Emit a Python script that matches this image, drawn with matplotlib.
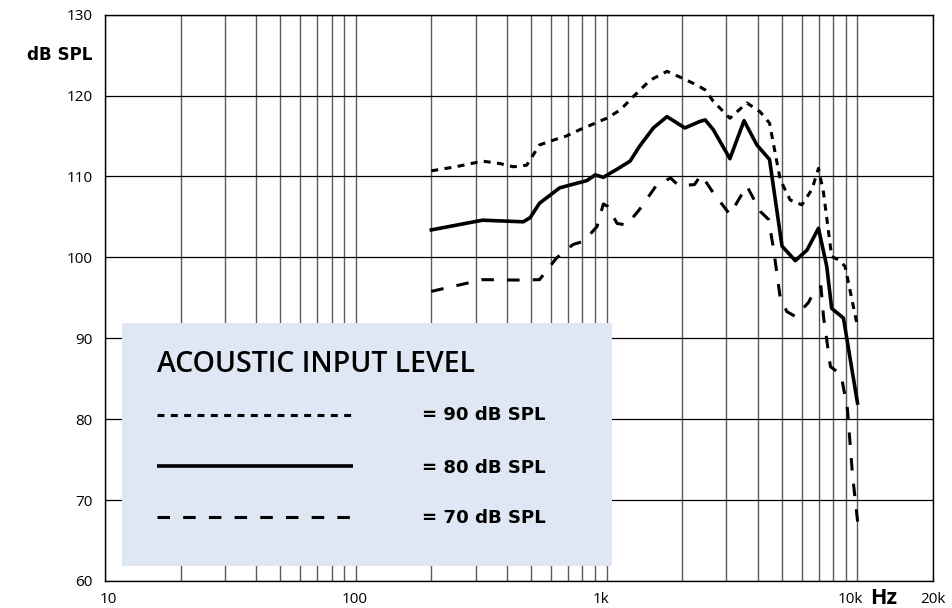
import matplotlib
matplotlib.use("Agg")
import matplotlib.pyplot as plt
from matplotlib.patches import Rectangle
from matplotlib.ticker import FixedLocator, NullFormatter
import matplotlib.transforms as mtransforms

plt.rcParams['font.family'] = ['Open Sans', 'DejaVu Sans']
plt.rcParams['lines.scale_dashes'] = False

# ---- data ----
f90 = [200, 250, 320, 375, 425, 480, 540, 613, 690, 783, 886, 1000, 1130, 1280, 1489,
       1740, 2023, 2290, 2470, 2660, 3100, 3620, 4090, 4460, 4920, 5390, 6000, 6580,
       6990, 7320, 7890, 8400, 8920, 9950]
db90 = [110.7, 111.2, 111.9, 111.6, 111.2, 111.4, 113.9, 114.5, 115.0, 115.8, 116.5, 117.2,
        118.2, 119.9, 121.9, 123.0, 122.1, 121.3, 120.7, 119.3, 117.2, 119.1, 118.0, 116.6,
        109.6, 107.1, 106.5, 108.4, 111.0, 108.0, 100.1, 99.7, 98.9, 91.8]

f80 = [200, 320, 465, 495, 540, 650, 835, 900, 970, 1100, 1240, 1350, 1535, 1740, 2050,
       2350, 2470, 2660, 3100, 3530, 3970, 4460, 5000, 5650, 6290, 6990, 7540, 7890, 8790,
       10000]
db80 = [103.4, 104.6, 104.4, 104.9, 106.7, 108.6, 109.5, 110.2, 109.9, 110.9, 111.9, 113.7,
        116.0, 117.4, 116.0, 116.8, 117.0, 115.8, 112.2, 116.9, 113.9, 112.1, 101.4, 99.6,
        100.9, 103.6, 98.9, 93.7, 92.5, 82.0]

f70 = [200, 320, 440, 540, 630, 735, 810, 915, 970, 1010, 1100, 1200, 1350, 1595, 1800,
       1940, 2240, 2380, 2660, 3100, 3620, 4090, 4420, 4630, 4920, 5230, 5650, 6370, 6670,
       7150, 7320, 7800, 8600, 9120, 9560, 10090]
db70 = [95.8, 97.25, 97.2, 97.25, 99.9, 101.6, 102.0, 103.8, 106.6, 106.3, 104.2, 104.0,
        105.9, 109.1, 109.8, 108.85, 109.0, 110.2, 108.0, 105.3, 108.85, 105.7, 104.7, 101.0,
        95.0, 93.3, 92.7, 94.4, 95.6, 96.4, 92.7, 86.5, 85.5, 81.2, 73.0, 66.4]

x_ticks = [10, 100, 1000, 10000, 20000]
x_labels = ['10', '100', '1k', '10k', '20k']
x_grid = [20, 30, 40, 50, 60, 70, 80, 90, 200, 300, 400, 500, 600, 700, 800, 900,
          2000, 3000, 4000, 5000, 6000, 7000, 8000, 9000]
y_ticks = [60, 70, 80, 90, 100, 110, 120, 130]
legend_title = 'ACOUSTIC INPUT LEVEL'
legend_labels = ['= 90 dB SPL', '= 80 dB SPL', '= 70 dB SPL']

# ---- styles ----
LW = 2.2
dot_style = (0, (5.0, 4.6))
dash_style = (0, (9.0, 9.5))
styles = [dot_style, '-', dash_style]
BOLD_WIDE = ['DejaVu Sans']
label_shift_px = [3, -1, -6, -7, 0]

fig = plt.figure(figsize=(9.53, 6.08), dpi=100)
ax = fig.add_axes([105/953, 27/608, 828/953, 566.3/608])
ax.set_xscale('log')
ax.set_xlim(10, 20000)
ax.set_ylim(60, 130)

ax.xaxis.set_major_locator(FixedLocator(x_ticks))
ax.xaxis.set_minor_locator(FixedLocator(x_grid))
ax.xaxis.set_minor_formatter(NullFormatter())
ax.set_xticklabels(x_labels)
ax.set_yticks(y_ticks)
ax.tick_params(axis='both', which='both', length=0, labelsize=11, colors='black')
ax.tick_params(axis='y', pad=9)
ax.tick_params(axis='x', pad=8)

ax.xaxis.grid(True, which='both', color='#5a5a5a', lw=1.0, zorder=0)
ax.yaxis.grid(True, which='major', color='black', lw=0.9, zorder=0)
ax.set_axisbelow(True)
for s in ax.spines.values():
    s.set_linewidth(1.0)
    s.set_color('black')

for lbl, dx in zip(ax.get_xticklabels(), label_shift_px):
    lbl.set_transform(lbl.get_transform() +
                      mtransforms.ScaledTranslation(dx / 100, 0, fig.dpi_scale_trans))

# legend box covering grid
ax.add_patch(Rectangle((0.0205, 0.0265), 0.5915, 0.4295, transform=ax.transAxes,
                       facecolor='#e0e7f4', edgecolor='none', zorder=1.5))

ax.plot(f90, db90, color='black', lw=LW, linestyle=dot_style, zorder=3)
ax.plot(f80, db80, color='black', lw=2.6, linestyle='-', zorder=3)
ax.plot(f70, db70, color='black', lw=LW, linestyle=dash_style, zorder=3)

# legend content
ax.text(0.0628, 0.369, legend_title, transform=ax.transAxes, fontsize=20.5,
        fontweight='semibold', ha='left', va='baseline', zorder=4)
ys = [0.2931, 0.2031, 0.113]
ybl = [0.2843, 0.191, 0.1019]
lws = [LW, 2.6, LW]
for st, y, yb, lab, lw in zip(styles, ys, ybl, legend_labels, lws):
    ax.plot([0.0628, 0.2995], [y, y], transform=ax.transAxes, color='black', lw=lw,
            linestyle=st, zorder=4, solid_capstyle='butt', dash_capstyle='butt')
    ax.text(0.3829, yb, lab, transform=ax.transAxes, fontsize=13.1, fontweight='bold',
            family=BOLD_WIDE, ha='left', va='baseline', zorder=4)

# axis unit labels
tr_y = mtransforms.blended_transform_factory(ax.transAxes, ax.transData)
ax.text(-0.0157, 125.0, 'dB SPL', transform=tr_y, fontsize=12.1, fontweight='bold',
        family=BOLD_WIDE, ha='right', va='center')
tr_x = mtransforms.blended_transform_factory(ax.transData, ax.transAxes)
ax.text(12740, -0.040, 'Hz', transform=tr_x, fontsize=15.5, fontweight='bold',
        ha='center', va='baseline')

fig.savefig('out.png', dpi=100)
